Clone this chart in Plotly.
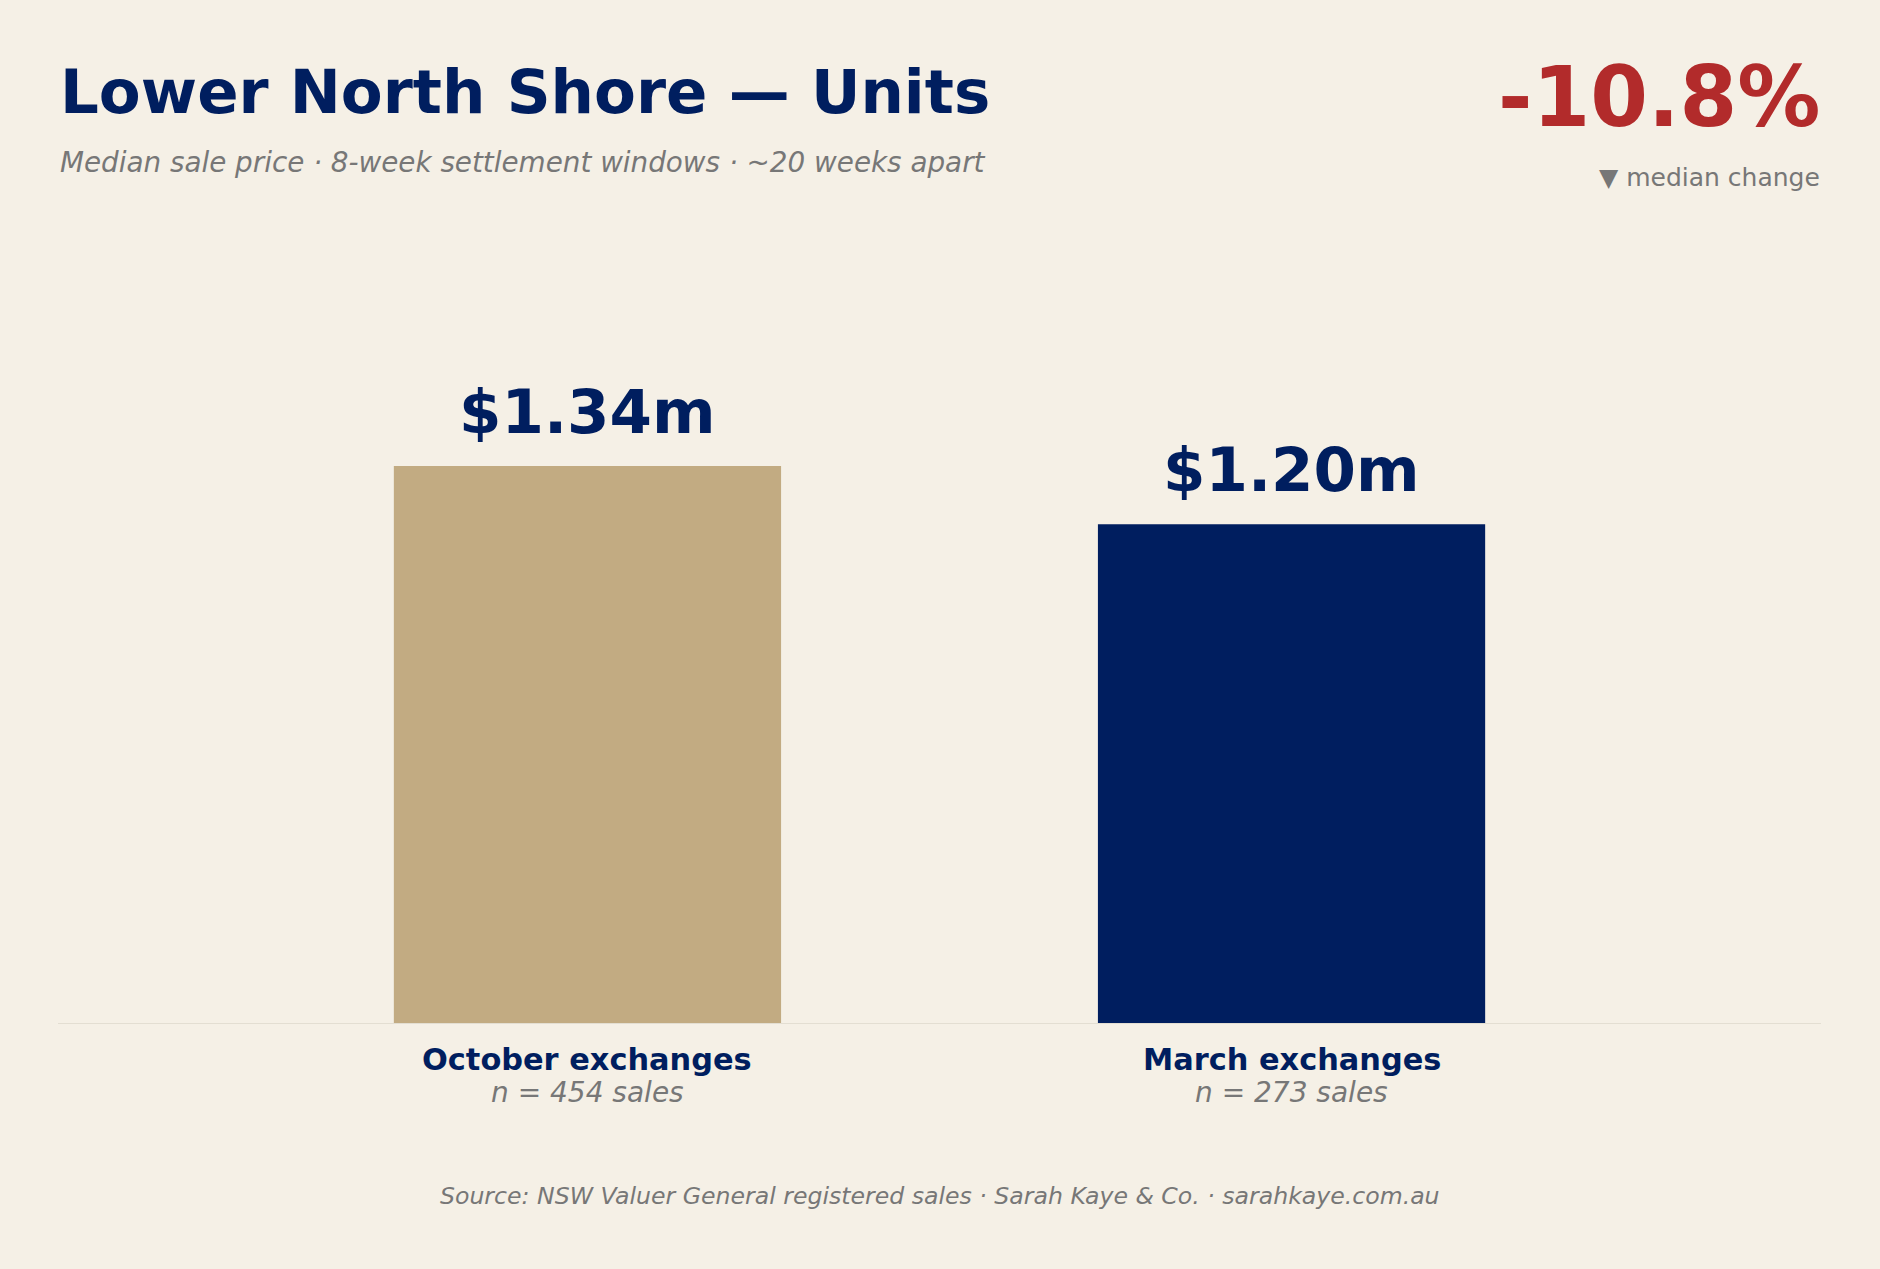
import plotly.graph_objects as go

# data
periods = ["October exchanges", "March exchanges"]
medians = [1.34, 1.20]          # $m
sales_counts = [454, 273]
value_labels = ["$1.34m", "$1.20m"]
median_change = "-10.8%"

BG = "#f5f0e6"
NAVY = "#001e5f"
TAN = "#c2ab82"
RED = "#b22b2b"
GREY = "#777777"
FONT = "DejaVu Sans"

W, H = 1880, 1269
M_L, M_R, M_T, M_B = 58, 59, 200, 246
PLOT_H = H - M_T - M_B


def py(pix):
    # pixel row (from top of page) -> paper y
    return (H - M_B - pix) / PLOT_H


fig = go.Figure()
fig.add_trace(go.Bar(
    x=[0, 1], y=medians, width=0.55,
    marker=dict(color=[TAN, NAVY], line=dict(width=0)),
    hoverinfo="skip",
))

# value labels above bars
for i, (v, lab) in enumerate(zip(medians, value_labels)):
    fig.add_annotation(x=i, y=v, xref="x", yref="y", text=f"<b>{lab}</b>",
                       showarrow=False, yanchor="middle", yshift=55,
                       font=dict(family=FONT, size=61, color=NAVY))

# category labels under the baseline
for i, (name, n) in enumerate(zip(periods, sales_counts)):
    fig.add_annotation(x=i, y=0, xref="x", yref="y", text=f"<b>{name}</b>",
                       showarrow=False, yanchor="middle", yshift=-36,
                       font=dict(family=FONT, size=30.4, color=NAVY))
    fig.add_annotation(x=i, y=0, xref="x", yref="y", text=f"<i>n = {n} sales</i>",
                       showarrow=False, yanchor="middle", yshift=-69,
                       font=dict(family=FONT, size=28, color=GREY))

# header
fig.add_annotation(x=0, y=py(92), xref="paper", yref="paper", xanchor="left", yanchor="middle",
                   xshift=0, showarrow=False, text="<b>Lower North Shore — Units</b>",
                   font=dict(family=FONT, size=61, color=NAVY))
fig.add_annotation(x=0, y=py(162), xref="paper", yref="paper", xanchor="left", yanchor="middle",
                   xshift=0, showarrow=False,
                   text="<i>Median sale price · 8-week settlement windows · ~20 weeks apart</i>",
                   font=dict(family=FONT, size=27.8, color=GREY))
fig.add_annotation(x=1, y=py(97.5), xref="paper", yref="paper", xanchor="right", yanchor="middle",
                   xshift=1, showarrow=False, text=f"<b>{median_change}</b>",
                   font=dict(family=FONT, size=83, color=RED))
fig.add_annotation(x=1, y=py(177), xref="paper", yref="paper", xanchor="right", yanchor="middle",
                   xshift=1, showarrow=False, text="▼ median change",
                   font=dict(family=FONT, size=25, color=GREY))

# source line
fig.add_annotation(x=0.5, y=py(1196), xref="paper", yref="paper", xanchor="center", yanchor="middle",
                   showarrow=False,
                   text="<i>Source: NSW Valuer General registered sales · Sarah Kaye & Co. · sarahkaye.com.au</i>",
                   font=dict(family=FONT, size=23.6, color=GREY))

fig.update_layout(
    width=W, height=H,
    margin=dict(l=M_L, r=M_R, t=M_T, b=M_B, pad=0),
    paper_bgcolor=BG, plot_bgcolor=BG,
    showlegend=False,
    font=dict(family=FONT),
)
fig.update_xaxes(range=[-0.752, 1.752], showticklabels=False, showgrid=False, zeroline=False,
                 showline=True, linecolor="#e3ded2", linewidth=1, ticks="", fixedrange=True)
fig.update_yaxes(range=[0, 1.98], visible=False, showgrid=False, zeroline=False, fixedrange=True)

# no white page margin around the chart, no modebar
fig.write_html("out.html", config={"displayModeBar": False},
               post_script="document.body.style.margin='0';")
